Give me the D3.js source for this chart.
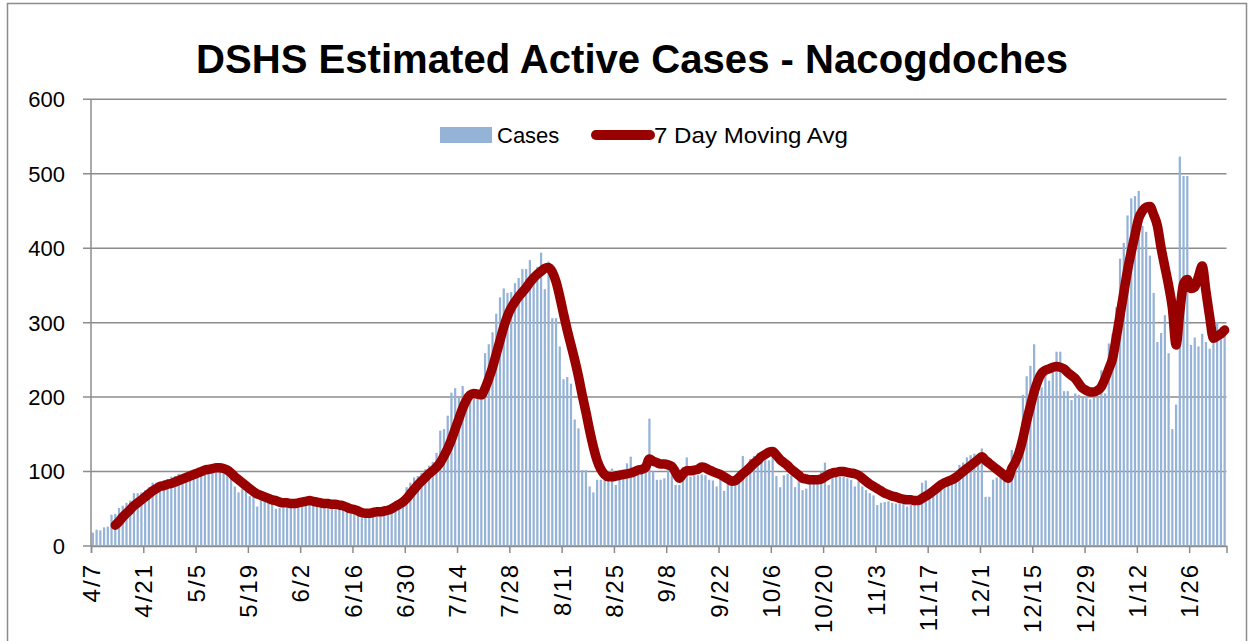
<!DOCTYPE html>
<html><head><meta charset="utf-8">
<script src="https://cdn.jsdelivr.net/npm/d3@7"></script>
<style>
body{margin:0;background:#fff}
svg{display:block}
text{font-family:"Liberation Sans",Arial,sans-serif;fill:#000}
</style>
</head><body>
<svg id="chart" width="1253" height="641"></svg>
<script>
// ---------------- data ----------------
const startDate = "2020-04-07";
const chartTitle = "DSHS Estimated Active Cases - Nacogdoches";
const seriesNames = ["Cases", "7 Day Moving Avg"];
const cases = [
 18,22,21,25,26,42,43,51,54,58,
 61,71,71,72,75,79,85,85,86,88,
 90,93,94,97,96,98,100,101,103,104,
 105,106,105,106,105,104,102,96,80,72,
 77,83,67,66,53,62,61,58,57,50,
 51,52,64,55,58,57,58,60,63,62,
 60,57,56,56,55,56,54,53,52,50,
 48,46,44,43,44,45,46,47,48,50,
 55,60,63,64,79,85,92,94,98,103,
 108,113,125,155,157,175,206,212,200,215,
 205,200,198,200,205,259,271,287,312,334,
 346,340,341,353,360,372,372,384,365,375,
 394,345,382,306,306,268,224,227,218,170,
 158,102,102,80,72,89,89,89,92,104,
 82,89,95,111,120,96,96,98,100,171,
 100,89,89,91,108,100,82,82,106,119,
 93,95,95,96,95,89,88,80,92,74,
 84,86,88,93,121,104,117,121,125,124,
 124,115,133,94,79,95,97,95,79,93,
 75,77,88,92,94,100,112,82,93,93,
 93,93,91,89,80,87,80,75,71,68,
 55,58,59,60,58,57,57,58,53,55,
 55,57,85,88,68,75,77,82,91,91,
 93,98,109,112,119,122,124,123,131,66,
 66,89,92,92,88,92,129,106,124,203,
 228,242,271,228,213,242,222,245,261,261,
 208,208,196,205,203,200,202,197,200,200,
 236,205,272,285,321,386,407,444,467,470,
 477,430,422,390,340,274,286,310,259,157,
 190,523,497,497,270,280,268,285,274,265,
 280,301,294,290
];
const movingAvgStart = 6; // first day index that has a 7-day average
const movingAvg = [
 28,33,39,44,
 49,54,58,62,66,70,74,77,80,81,
 83,84,86,88,90,92,94,96,98,100,
 102,103,104,105,105,104,102,98,93,89,
 85,81,77,73,70,68,66,64,62,61,
 59,58,58,57,57,58,59,60,61,60,
 59,58,57,57,56,56,55,54,52,50,
 49,47,45,44,44,45,46,46,47,48,
 50,53,56,59,64,70,76,82,87,92,
 97,101,106,112,121,131,143,157,171,185,
 196,203,205,204,203,212,225,240,258,276,
 294,309,320,328,335,341,347,354,360,365,
 369,373,374,368,355,335,312,290,270,250,
 228,203,180,155,133,115,103,96,93,93,
 94,95,96,97,98,100,102,103,106,117,
 114,112,110,110,109,107,99,91,97,101,
 101,102,103,106,105,102,100,98,96,93,
 90,87,88,92,97,101,106,111,115,120,
 123,126,127,122,116,112,108,103,99,95,
 91,90,89,89,89,90,93,96,98,99,
 100,100,99,98,97,95,91,87,83,80,
 77,74,71,69,67,66,64,63,62,62,
 61,61,64,67,70,74,78,82,85,87,
 89,92,96,100,104,108,112,116,120,115,
 111,107,103,99,95,91,104,113,126,145,
 168,188,207,222,232,236,238,240,241,240,
 238,233,229,225,218,212,209,207,207,209,
 214,225,238,252,280,310,340,370,395,418,
 440,450,455,456,445,430,400,375,350,320,
 270,315,352,358,346,348,362,376,342,308,
 279,282,285,290
];
const yTickValues = [0,100,200,300,400,500,600];
const xTickEvery = 14;

// ---------------- layout ----------------
const svg = d3.select("#chart");
const plot = {left: 91, right: 1226.5, top: 99.3, bottom: 546};
const colBar = "#95b3d7", colLine = "#990000", colGrid = "#8c8c8c";

svg.append("rect").attr("x",7.5).attr("y",3.5).attr("width",1239).attr("height",700)
  .attr("fill","#fff").attr("stroke","#8c8c8c").attr("stroke-width",1.5);

const parse = d3.utcParse("%Y-%m-%d");
const d0 = parse(startDate);
const dates = cases.map((_, i) => d3.utcDay.offset(d0, i));
const fmt = d => (d.getUTCMonth()+1) + "/" + d.getUTCDate();

const n = cases.length;
const x = d3.scaleBand().domain(d3.range(n)).range([plot.left, plot.right])
  .paddingInner(0.4).paddingOuter(0.2);
const xEdge = d3.scaleLinear().domain([0, n]).range([plot.left, plot.right]);
const y = d3.scaleLinear().domain([0, 600]).range([plot.bottom, plot.top]);

// gridlines
svg.append("g").selectAll("line").data(yTickValues).join("line")
  .attr("x1", plot.left - 8).attr("x2", plot.right)
  .attr("y1", d => y(d)).attr("y2", d => y(d))
  .attr("stroke", colGrid).attr("stroke-width", 1.5);

// y labels
svg.append("g").selectAll("text").data(yTickValues).join("text")
  .attr("x", 65).attr("y", d => y(d)).attr("dy", "0.36em")
  .attr("text-anchor", "end").style("font-size", "22px")
  .text(d => d);

// bars
svg.append("g").selectAll("rect").data(cases).join("rect")
  .attr("x", (d, i) => x(i)).attr("width", x.bandwidth())
  .attr("y", d => y(d)).attr("height", d => y(0) - y(d))
  .attr("fill", colBar);

// y axis line
svg.append("line").attr("x1", plot.left).attr("x2", plot.left)
  .attr("y1", plot.top).attr("y2", plot.bottom)
  .attr("stroke", colGrid).attr("stroke-width", 1.5);

// x axis
const xTicks = d3.range(0, n, xTickEvery);
const xAxis = d3.axisBottom(xEdge).tickValues(xTicks).tickSize(7).tickFormat(i => fmt(dates[i]));
const gx = svg.append("g").attr("transform", `translate(0,${plot.bottom})`).call(xAxis);
gx.select(".domain").attr("stroke", colGrid).attr("stroke-width", 1.5);
gx.selectAll(".tick line").attr("stroke", colGrid).attr("stroke-width", 1.5);
gx.selectAll(".tick text")
  .attr("transform", "rotate(-90)")
  .attr("x", -17).attr("y", 0).attr("dy", "0.36em")
  .style("text-anchor", "end").style("font-size", "24px").style("letter-spacing", "2px")
  .style("font-family", "'Liberation Sans',Arial,sans-serif").attr("fill", "#000");

// moving average line
const maData = movingAvg.map((v, k) => ({i: k + movingAvgStart, v}));
svg.append("path").datum(maData)
  .attr("d", d3.line().x(d => x(d.i) + x.bandwidth()/2).y(d => y(d.v)).curve(d3.curveMonotoneX))
  .attr("fill", "none").attr("stroke", colLine).attr("stroke-width", 9.5)
  .attr("stroke-linejoin", "round").attr("stroke-linecap", "round");

// title
svg.append("text").attr("x", 632).attr("y", 73).attr("text-anchor", "middle")
  .style("font-size", "40px").style("font-weight", "bold")
  .attr("textLength", 872).attr("lengthAdjust", "spacingAndGlyphs")
  .text(chartTitle);

// legend
const lg = svg.append("g");
lg.append("rect").attr("x", 440).attr("y", 127).attr("width", 52).attr("height", 16).attr("fill", colBar);
lg.append("text").attr("x", 497).attr("y", 143).style("font-size", "22px").text(seriesNames[0]);
lg.append("line").attr("x1", 596).attr("x2", 650).attr("y1", 135).attr("y2", 135)
  .attr("stroke", colLine).attr("stroke-width", 10).attr("stroke-linecap", "round");
lg.append("text").attr("x", 654).attr("y", 143).style("font-size", "22px")
  .attr("textLength", 194).attr("lengthAdjust", "spacingAndGlyphs").text(seriesNames[1]);
</script>
</body></html>
